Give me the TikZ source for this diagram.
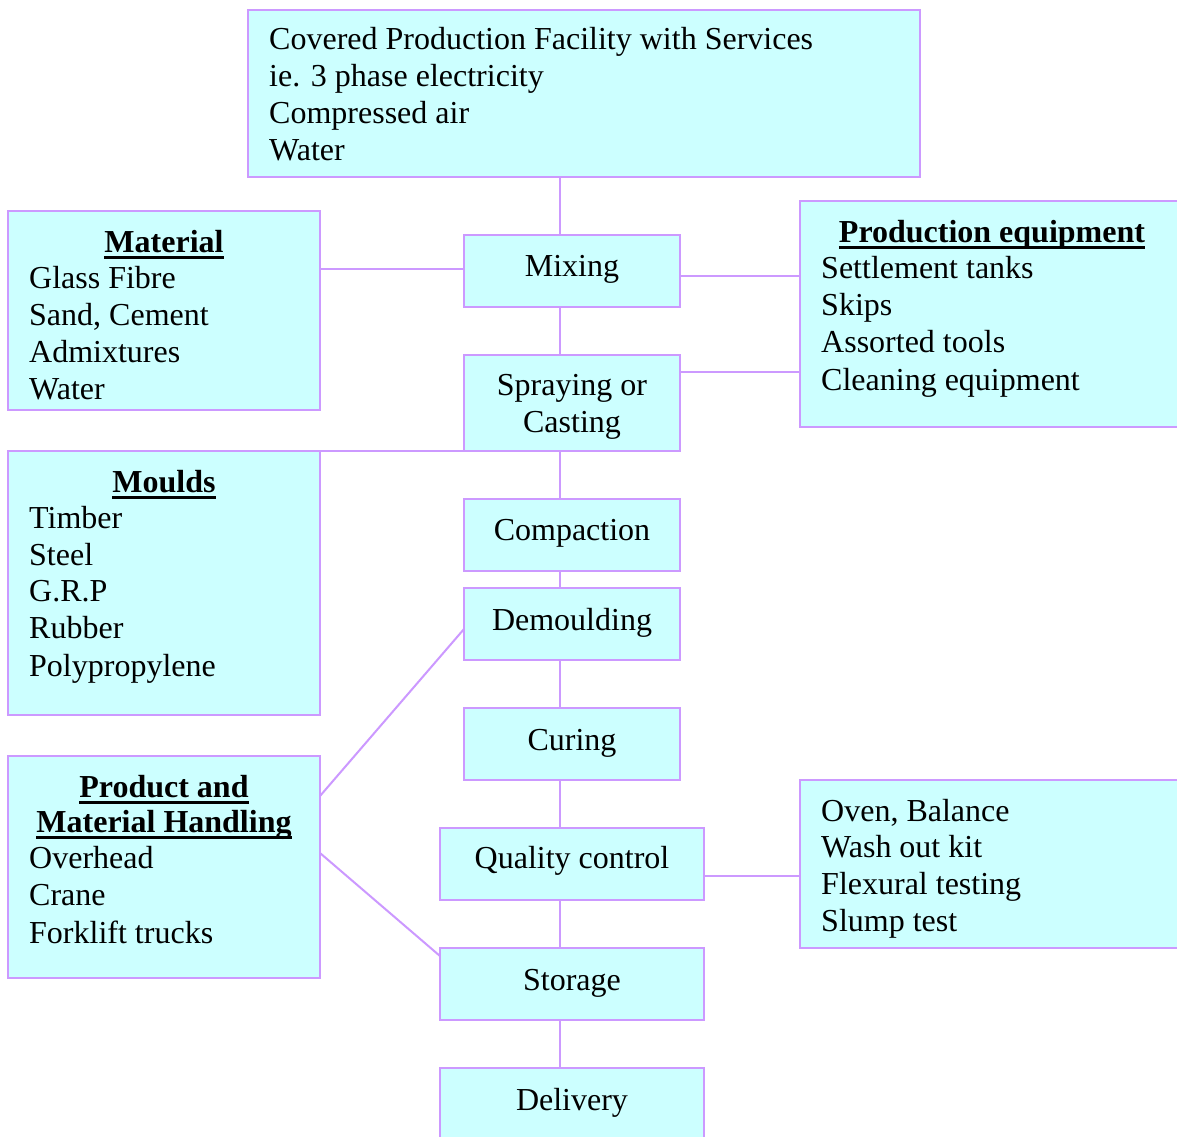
\documentclass[tikz,border=0pt]{standalone}
\usepackage{fontspec}
\setmainfont{Liberation Serif}
\definecolor{boxfill}{HTML}{CCFFFF}
\definecolor{boxline}{HTML}{CC99FF}
\newcommand\myul[1]{\setbox0\hbox{#1}\rlap{\vrule height -4pt depth 7pt width \wd0}\box0}
\begin{document}
\begin{tikzpicture}[x=1pt,y=1pt,
  box/.style={draw=boxline, fill=boxfill, line width=2.5pt, inner sep=0pt, outer sep=0pt, anchor=north west},
  conn/.style={draw=boxline, line width=2pt},
  txt/.style={inner sep=0pt, anchor=base west, font=\fontsize{32}{37}\selectfont},
  ctxt/.style={inner sep=0pt, anchor=base, font=\fontsize{32}{37}\selectfont},
  ttl/.style={inner sep=0pt, anchor=base, font=\fontsize{32}{37}\selectfont\bfseries}]
\useasboundingbox (0,0) rectangle (1177,-1136);
\clip (0,0) rectangle (1177,-1136);
\fill[white] (0,0) rectangle (1177,-1136);
\coordinate (sp) at (560,0);
% boxes
\node[box, minimum width=672pt, minimum height=167pt] (top) at (248,-10) {};
\node[box, minimum width=312pt, minimum height=199pt] (mat) at (8,-211) {};
\node[box, minimum width=216pt, minimum height=72pt] (mix) at (464,-235) {};
\node[box, minimum width=400pt, minimum height=226pt] (peq) at (800,-201) {};
\node[box, minimum width=216pt, minimum height=96pt] (spr) at (464,-355) {};
\node[box, minimum width=312pt, minimum height=264pt] (mld) at (8,-451) {};
\node[box, minimum width=216pt, minimum height=72pt] (cmp) at (464,-499) {};
\node[box, minimum width=216pt, minimum height=72pt] (dem) at (464,-588) {};
\node[box, minimum width=216pt, minimum height=72pt] (cur) at (464,-708) {};
\node[box, minimum width=264pt, minimum height=72pt] (qc) at (440,-828) {};
\node[box, minimum width=400pt, minimum height=168pt] (ovn) at (800,-780) {};
\node[box, minimum width=312pt, minimum height=222pt] (hnd) at (8,-756) {};
\node[box, minimum width=264pt, minimum height=72pt] (sto) at (440,-948) {};
\node[box, minimum width=264pt, minimum height=90pt] (del) at (440,-1068) {};
% connectors
\draw[conn] (top.south -| sp) -- (mix.north -| sp);
\draw[conn] (mix.south -| sp) -- (spr.north -| sp);
\draw[conn] (spr.south -| sp) -- (cmp.north -| sp);
\draw[conn] (cmp.south -| sp) -- (dem.north -| sp);
\draw[conn] (dem.south -| sp) -- (cur.north -| sp);
\draw[conn] (cur.south -| sp) -- (qc.north -| sp);
\draw[conn] (qc.south -| sp) -- (sto.north -| sp);
\draw[conn] (sto.south -| sp) -- (del.north -| sp);
\draw[conn] (mat.east |- 0,-269) -- (mix.west |- 0,-269);
\draw[conn] (mix.east |- 0,-276) -- (peq.west |- 0,-276);
\draw[conn] (spr.east |- 0,-372) -- (peq.west |- 0,-372);
\draw[conn] (mld.north east) -- (spr.south west);
\draw[conn] (hnd.east |- 0,-796) -- (dem.west |- 0,-629);
\draw[conn] (hnd.east |- 0,-853) -- ([yshift=-8pt]sto.north west);
\draw[conn] (qc.east |- 0,-876) -- (ovn.west |- 0,-876);
% texts
\node[txt] (t1) at (269,-49) {Covered Production Facility with Services};
\node[txt] (t2) at (269,-86) {ie. 3 phase electricity};
\node[txt] (t3) at (269,-123) {Compressed air};
\node[txt] (t4) at (269,-160) {Water};
\node[ttl] (m0) at (164,-252) {\myul{Material}};
\node[txt] (m1) at (29,-288) {Glass Fibre};
\node[txt] (m2) at (29,-325) {Sand, Cement};
\node[txt] (m3) at (29,-362) {Admixtures};
\node[txt] (m4) at (29,-399) {Water};
\node[ctxt] (mixt) at (572,-276) {Mixing};
\node[ttl] (p0) at (992,-242) {\myul{Production equipment}};
\node[txt] (p1) at (821,-278) {Settlement tanks};
\node[txt] (p2) at (821,-315) {Skips};
\node[txt] (p3) at (821,-352) {Assorted tools};
\node[txt] (p4) at (821,-390) {Cleaning equipment};
\node[ctxt] (s1) at (572,-395) {Spraying or};
\node[ctxt] (s2) at (572,-432) {Casting};
\node[ttl] (o0) at (164,-492) {\myul{Moulds}};
\node[txt] (o1) at (29,-528) {Timber};
\node[txt] (o2) at (29,-565) {Steel};
\node[txt] (o3) at (29,-601) {G.R.P};
\node[txt] (o4) at (29,-638) {Rubber};
\node[txt] (o5) at (29,-676) {Polypropylene};
\node[ctxt] (ct) at (572,-540) {Compaction};
\node[ctxt] (dt) at (572,-630) {Demoulding};
\node[ctxt] (cut) at (572,-750) {Curing};
\node[ctxt] (qt) at (572,-868) {Quality control};
\node[txt] (v1) at (821,-821) {Oven, Balance};
\node[txt] (v2) at (821,-857) {Wash out kit};
\node[txt] (v3) at (821,-894) {Flexural testing};
\node[txt] (v4) at (821,-931) {Slump test};
\node[ttl] (h0) at (164,-797) {\myul{Product and}};
\node[ttl] (h1) at (164,-832) {\myul{Material Handling}};
\node[txt] (h2) at (29,-868) {Overhead};
\node[txt] (h3) at (29,-905) {Crane};
\node[txt] (h4) at (29,-943) {Forklift trucks};
\node[ctxt] (st) at (572,-990) {Storage};
\node[ctxt] (dl) at (572,-1110) {Delivery};
\end{tikzpicture}
\end{document}
